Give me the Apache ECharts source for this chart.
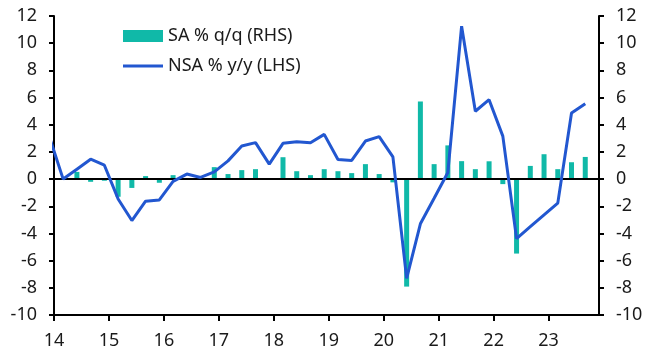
<!DOCTYPE html>
<html>
<head>
<meta charset="utf-8">
<script src="https://cdn.jsdelivr.net/npm/echarts@6/dist/echarts.min.js"></script>
<style>
html,body{margin:0;padding:0;background:#fff;}
#c{width:650px;height:355px;}
</style>
</head>
<body>
<div id="c"></div>
<script>
var quarters = ["2013Q4",
  "2014Q1","2014Q2","2014Q3","2014Q4",
  "2015Q1","2015Q2","2015Q3","2015Q4",
  "2016Q1","2016Q2","2016Q3","2016Q4",
  "2017Q1","2017Q2","2017Q3","2017Q4",
  "2018Q1","2018Q2","2018Q3","2018Q4",
  "2019Q1","2019Q2","2019Q3","2019Q4",
  "2020Q1","2020Q2","2020Q3","2020Q4",
  "2021Q1","2021Q2","2021Q3","2021Q4",
  "2022Q1","2022Q2","2022Q3","2022Q4",
  "2023Q1","2023Q2","2023Q3"];
var nsaYoY = [3.1,
  0.0, 0.73, 1.46, 1.02,
  -1.46, -3.05, -1.63, -1.53,
  -0.17, 0.37, 0.12, 0.53,
  1.34, 2.43, 2.68, 1.10,
  2.63, 2.75, 2.68, 3.29,
  1.44, 1.37, 2.80, 3.12,
  1.63, -7.30, -3.29, -1.41,
  0.49, 11.25, 4.99, 5.84,
  3.16, -4.38, -3.50, -2.63,
  -1.77, 4.87, 5.55];
var saQoQ = [null,
  0.0, 0.53, -0.20, -0.12,
  -1.30, -0.65, 0.22, -0.27,
  0.29, 0.0, 0.0, 0.88,
  0.37, 0.66, 0.73, 0.0,
  1.61, 0.58, 0.29, 0.73,
  0.58, 0.44, 1.10, 0.37,
  -0.24, -7.91, 5.71, 1.10,
  2.48, 1.32, 0.73, 1.31,
  -0.37, -5.48, 0.97, 1.83,
  0.73, 1.24, 1.63];
var yearTicks = [2014,2015,2016,2017,2018,2019,2020,2021,2022,2023];
var yTicksMin = -10, yTicksMax = 12, yTicksStep = 2;

function qPos(q){
  var y = parseInt(q.slice(0,4),10), n = parseInt(q.slice(5),10);
  return y + (3*n - 1)/12;
}
var lineData = quarters.map(function(q,i){ return [qPos(q), nsaYoY[i]]; });
var barData = quarters.map(function(q,i){ return [qPos(q), saQoQ[i]]; }).filter(function(d){return d[1]!==null;});

var FONT = 'Noto Sans';
var FS = 18;
var TXT = '#1a1a1a';
var BAR = '#10B9A8', LINE = '#2257D0';
var chart = echarts.init(document.getElementById('c'), null, {renderer:'canvas'});
var yAxisBase = function(pos){
  return {
    type:'value', position:pos, min:yTicksMin, max:yTicksMax, interval:yTicksStep,
    axisLine:{show:true, onZero:false, lineStyle:{color:'#000', width:2}},
    axisTick:{show:true, length:5, inside:false, lineStyle:{color:'#000', width:2}},
    axisLabel:{margin:17, fontSize:FS, fontFamily:FONT, color:TXT},
    splitLine:{show:false}
  };
};
chart.setOption({
  animation:false,
  grid:{left:54, right:51, top:16, bottom:40, containLabel:false},
  legend:[{
    left:118, top:22, padding:5, itemWidth:40, itemHeight:12,
    textStyle:{fontSize:FS, fontFamily:FONT, color:TXT},
    data:[{name:'SA % q/q (RHS)', icon:'rect'}]
  },{
    left:118, top:52, padding:5, itemWidth:40, itemHeight:3,
    textStyle:{fontSize:FS, fontFamily:FONT, color:TXT},
    data:[{name:'NSA % y/y (LHS)', icon:'rect', itemStyle:{color:LINE}}]
  }],
  xAxis:{
    type:'value', min:2014, max:2023 + 11/12,
    axisLine:{show:true, onZero:false, lineStyle:{color:'#000', width:2}},
    axisTick:{show:true, length:6, lineStyle:{color:'#000', width:2}, customValues:yearTicks},
    axisLabel:{margin:17, fontSize:FS, fontFamily:FONT, color:TXT, customValues:yearTicks,
      formatter:function(v){ return String(Math.round(v)).slice(2); }},
    splitLine:{show:false}
  },
  yAxis:[yAxisBase('left'), yAxisBase('right')],
  series:[
    {
      name:'SA % q/q (RHS)', type:'bar', yAxisIndex:1, barWidth:5,
      itemStyle:{color:BAR},
      data:barData,
      markLine:{silent:true, symbol:'none', label:{show:false},
        lineStyle:{color:'#000', width:2, type:'solid'},
        data:[{yAxis:0}]}
    },
    {
      name:'NSA % y/y (LHS)', type:'line', yAxisIndex:0, symbol:'none', showSymbol:false,
      clip:true, z:5,
      lineStyle:{color:LINE, width:3}, itemStyle:{color:LINE},
      data:lineData
    }
  ]
});
</script>
</body>
</html>
